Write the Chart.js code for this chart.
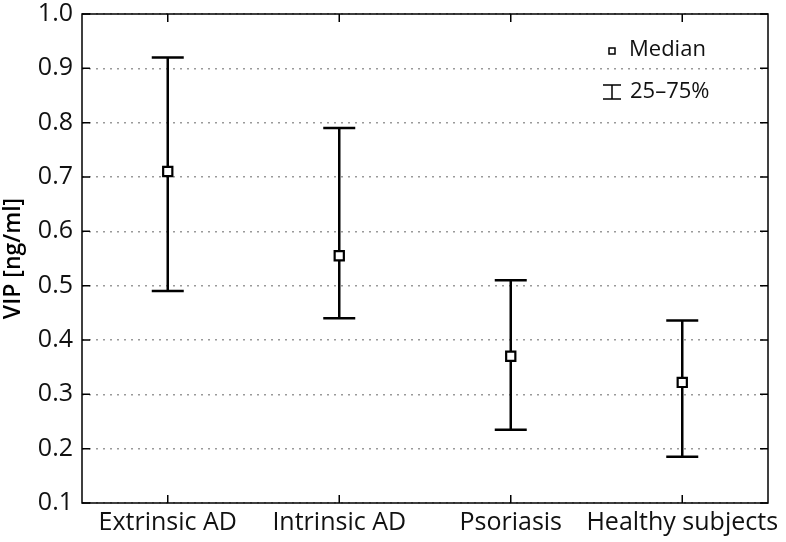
<!DOCTYPE html>
<html>
<head>
<meta charset="utf-8">
<script src="https://cdn.jsdelivr.net/npm/chart.js@4"></script>
<style>
  html, body { margin: 0; padding: 0; background: #fff; }
  #wrap { width: 786px; height: 542px; }
</style>
</head>
<body>
<div id="wrap"><canvas id="vipChart" width="786" height="542"></canvas></div>
<script>
const categories = ["Extrinsic AD", "Intrinsic AD", "Psoriasis", "Healthy subjects"];
const medians = [0.71, 0.555, 0.37, 0.322];
const q25 = [0.49, 0.44, 0.235, 0.185];
const q75 = [0.92, 0.79, 0.51, 0.436];
const yTicks = [0.1, 0.2, 0.3, 0.4, 0.5, 0.6, 0.7, 0.8, 0.9, 1.0];

const FONT = "'Open Sans', 'Noto Sans', sans-serif";

// whiskers, frame and inward ticks
const boxPlugin = {
    id: 'boxPlugin',
    beforeDatasetsDraw(chart) {
        const ctx = chart.ctx;
        const x = chart.scales.x, y = chart.scales.y;
        const a = chart.chartArea;
        ctx.save();
        ctx.strokeStyle = '#000';

        // 25-75% bars
        ctx.lineWidth = 2.5;
        categories.forEach((c, i) => {
            const px = x.getPixelForValue(i);
            const top = y.getPixelForValue(q75[i]);
            const bot = y.getPixelForValue(q25[i]);
            ctx.beginPath();
            ctx.moveTo(px, top); ctx.lineTo(px, bot);
            ctx.moveTo(px - 16, top); ctx.lineTo(px + 16, top);
            ctx.moveTo(px - 16, bot); ctx.lineTo(px + 16, bot);
            ctx.stroke();
        });

        // frame
        ctx.lineWidth = 1.5;
        ctx.strokeRect(a.left, a.top, a.right - a.left, a.bottom - a.top);

        // ticks pointing inside, on all four sides
        ctx.beginPath();
        yTicks.forEach(v => {
            const py = y.getPixelForValue(v);
            ctx.moveTo(a.left, py); ctx.lineTo(a.left + 8, py);
            ctx.moveTo(a.right, py); ctx.lineTo(a.right - 8, py);
        });
        categories.forEach((c, i) => {
            const px = x.getPixelForValue(i);
            ctx.moveTo(px, a.bottom); ctx.lineTo(px, a.bottom - 8);
            ctx.moveTo(px, a.top); ctx.lineTo(px, a.top + 8);
        });
        ctx.stroke();
        ctx.restore();
    },
    afterDraw(chart) {
        const ctx = chart.ctx;
        const a = chart.chartArea;
        const lx = a.right - 156;
        ctx.save();
        ctx.strokeStyle = '#000';
        ctx.fillStyle = '#fff';
        ctx.lineWidth = 1.5;
        ctx.fillRect(lx - 3, a.top + 34, 6, 6);
        ctx.strokeRect(lx - 3, a.top + 34, 6, 6);

        ctx.beginPath();
        ctx.moveTo(lx, a.top + 71); ctx.lineTo(lx, a.top + 85);
        ctx.moveTo(lx - 9, a.top + 71); ctx.lineTo(lx + 9, a.top + 71);
        ctx.moveTo(lx - 9, a.top + 85); ctx.lineTo(lx + 9, a.top + 85);
        ctx.stroke();

        ctx.fillStyle = '#111';
        ctx.font = '22px ' + FONT;
        ctx.textBaseline = 'middle';
        ctx.textAlign = 'left';
        ctx.fillText('Median', lx + 17, a.top + 36);
        ctx.fillText('25\u201375%', lx + 18, a.top + 78);
        ctx.restore();
    }
};

const chart = new Chart(document.getElementById('vipChart'), {
    type: 'line',
    data: {
        labels: categories,
        datasets: [
            {
                label: 'Median',
                data: medians,
                showLine: false,
                pointStyle: 'rect',
                pointRadius: 6.5,
                pointHoverRadius: 6.5,
                pointBackgroundColor: '#fff',
                pointBorderColor: '#000',
                pointBorderWidth: 2.2
            }
        ]
    },
    options: {
        responsive: false,
        animation: false,
        layout: { padding: { top: 14, right: 18, left: 0, bottom: 0 } },
        plugins: {
            legend: { display: false },
            tooltip: { enabled: false }
        },
        scales: {
            x: {
                type: 'category',
                offset: true,
                grid: { display: false, drawTicks: false },
                border: { display: false },
                ticks: {
                    color: '#111', padding: 5, maxRotation: 0, minRotation: 0, autoSkip: false,
                    font: { family: FONT, size: 25 }
                },
                afterFit: s => { s.height = 39; }
            },
            y: {
                min: 0.1,
                max: 1.0,
                afterBuildTicks: s => { s.ticks = yTicks.map(v => ({ value: v })); },
                grid: {
                    color: '#9a9a9a',
                    lineWidth: 1.5,
                    drawTicks: false
                },
                border: { display: false, dash: [2, 5] },
                ticks: {
                    color: '#111',
                    padding: 9,
                    font: { family: FONT, size: 25 },
                    callback: v => v.toFixed(1)
                },
                title: {
                    display: true,
                    text: 'VIP [ng/ml]',
                    color: '#000',
                    padding: { top: 0, bottom: 2 },
                    font: { family: FONT, size: 23, weight: '600' }
                },
                afterFit: s => { s.width = 82; s.paddingTop = 0; s.paddingBottom = 0; }
            }
        }
    },
    plugins: [boxPlugin]
});
</script>
</body>
</html>
